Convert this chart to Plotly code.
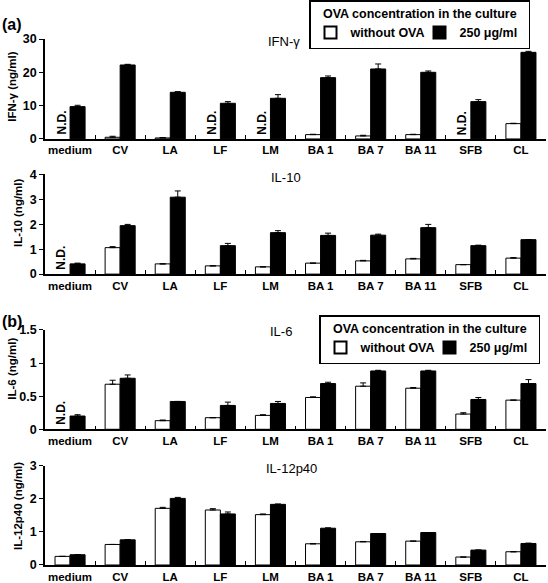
import plotly.graph_objects as go
from plotly.subplots import make_subplots

categories = ["medium", "CV", "LA", "LF", "LM", "BA 1", "BA 7", "BA 11", "SFB", "CL"]

# IFN-gamma (ng/ml)
ifn_without = [None, 0.5, 0.3, None, None, 1.3, 0.9, 1.3, None, 4.6]
ifn_without_err = [0, 0.3, 0.1, 0, 0, 0.1, 0.2, 0.1, 0, 0.1]
ifn_ova = [9.7, 22.2, 14.0, 10.7, 12.2, 18.4, 21.0, 20.0, 11.2, 26.0]
ifn_ova_err = [0.4, 0.2, 0.2, 0.5, 1.1, 0.5, 1.5, 0.4, 0.6, 0.3]

# IL-10 (ng/ml)
il10_without = [None, 1.06, 0.41, 0.33, 0.29, 0.44, 0.53, 0.61, 0.38, 0.64]
il10_without_err = [0, 0.04, 0.0, 0.0, 0.0, 0.0, 0.02, 0.02, 0.0, 0.02]
il10_ova = [0.41, 1.94, 3.08, 1.14, 1.66, 1.55, 1.56, 1.86, 1.14, 1.38]
il10_ova_err = [0.03, 0.05, 0.25, 0.09, 0.08, 0.09, 0.04, 0.13, 0.02, 0.0]

# IL-6 (ng/ml)
il6_without = [None, 0.68, 0.13, 0.175, 0.21, 0.48, 0.65, 0.62, 0.23, 0.44]
il6_without_err = [0, 0.06, 0.01, 0.0, 0.01, 0.01, 0.05, 0.01, 0.02, 0.0]
il6_ova = [0.20, 0.77, 0.42, 0.36, 0.39, 0.69, 0.88, 0.88, 0.45, 0.69]
il6_ova_err = [0.02, 0.05, 0.0, 0.05, 0.03, 0.02, 0.01, 0.01, 0.03, 0.06]

# IL-12p40 (ng/ml)
il12_without = [0.26, 0.62, 1.71, 1.66, 1.52, 0.64, 0.70, 0.72, 0.24, 0.40]
il12_without_err = [0.0, 0.0, 0.03, 0.04, 0.02, 0.0, 0.01, 0.0, 0.0, 0.0]
il12_ova = [0.31, 0.76, 2.01, 1.54, 1.83, 1.11, 0.95, 0.98, 0.45, 0.65]
il12_ova_err = [0.0, 0.0, 0.03, 0.06, 0.01, 0.01, 0.0, 0.0, 0.0, 0.01]

panel_titles = ["IFN-γ", "IL-10", "IL-6", "IL-12p40"]
axis_titles = ["IFN-γ (ng/ml)", "IL-10 (ng/ml)", "IL-6 (ng/ml)", "IL-12p40 (ng/ml)"]
y_max = [30, 4, 1.5, 3]
y_step = [10, 1, 0.5, 1]
series_names = ["without OVA", "250 μg/ml"]
legend_title = "OVA concentration in the culture"

panels = [
    (ifn_without, ifn_without_err, ifn_ova, ifn_ova_err),
    (il10_without, il10_without_err, il10_ova, il10_ova_err),
    (il6_without, il6_without_err, il6_ova, il6_ova_err),
    (il12_without, il12_without_err, il12_ova, il12_ova_err),
]

FONT = "Liberation Sans, Arial, sans-serif"

fig = make_subplots(rows=4, cols=1)

legend_of_row = {1: "legend", 2: None, 3: "legend2", 4: None}

for r, (w, we, o, oe) in enumerate(panels, start=1):
    lg = legend_of_row[r]
    fig.add_trace(go.Bar(
        x=categories, y=w, name=series_names[0],
        marker=dict(color="white", line=dict(color="black", width=1)),
        error_y=dict(type="data", symmetric=False, array=we, arrayminus=[0] * len(we),
                     color="black", thickness=1, width=3),
        showlegend=lg is not None, legend=lg if lg else "legend",
    ), row=r, col=1)
    fig.add_trace(go.Bar(
        x=categories, y=o, name=series_names[1],
        marker=dict(color="black", line=dict(color="black", width=1)),
        error_y=dict(type="data", symmetric=False, array=oe, arrayminus=[0] * len(oe),
                     color="black", thickness=1, width=3),
        showlegend=lg is not None, legend=lg if lg else "legend",
    ), row=r, col=1)

# plot-area domains (paper coordinates)
y_domains = [[0.810, 1.0], [0.553, 0.743], [0.258, 0.447], [0.0, 0.189]]

for r in range(1, 5):
    fig.update_xaxes(
        row=r, col=1, type="category", range=[-0.5, 9.5],
        showline=True, linecolor="black", linewidth=1.5,
        ticks="inside", tickson="boundaries", ticklen=4, tickcolor="black", tickwidth=1,
        tickangle=0, automargin=False,
        tickfont=dict(family=FONT, size=11.5, color="black", weight="bold"),
        showgrid=False, zeroline=False, fixedrange=True,
    )
    fig.update_yaxes(
        row=r, col=1, range=[0, y_max[r - 1]], dtick=y_step[r - 1], tick0=0,
        domain=y_domains[r - 1], automargin=False,
        showline=True, linecolor="black", linewidth=1.5,
        ticks="outside", ticklen=4, tickcolor="black", tickwidth=1,
        tickfont=dict(family=FONT, size=12.5, color="black", weight="bold"),
        showgrid=False, zeroline=False,
    )

annotations = []
# y-axis titles
title_pos = [(-0.066, 0.909), (-0.054, 0.671), (-0.066, 0.373), (-0.054, 0.112)]
for i, t in enumerate(axis_titles):
    annotations.append(dict(
        text=t, xref="paper", yref="paper", x=title_pos[i][0], y=title_pos[i][1],
        textangle=-90, showarrow=False, xanchor="center", yanchor="middle",
        font=dict(family=FONT, size=11.5, color="black", weight="bold"),
    ))
# panel titles
ptitle_pos = [(0.478, 0.996), (0.482, 0.736), (0.472, 0.443), (0.492, 0.183)]
for i, t in enumerate(panel_titles):
    annotations.append(dict(
        text=t, xref="paper", yref="paper", x=ptitle_pos[i][0], y=ptitle_pos[i][1],
        showarrow=False, xanchor="center", yanchor="middle",
        font=dict(family=FONT, size=13, color="black"),
    ))
# panel letters
annotations.append(dict(text="(a)", xref="paper", yref="paper", x=-0.09, y=1.027,
                        showarrow=False, xanchor="left", yanchor="middle",
                        font=dict(family=FONT, size=16, color="black", weight="bold")))
annotations.append(dict(text="(b)", xref="paper", yref="paper", x=-0.09, y=0.462,
                        showarrow=False, xanchor="left", yanchor="middle",
                        font=dict(family=FONT, size=16, color="black", weight="bold")))

# N.D. markers for missing "without OVA" values
for r, (w, we, o, oe) in enumerate(panels, start=1):
    for i, v in enumerate(w):
        if v is None:
            annotations.append(dict(
                text="N.D.", xref=f"x{r if r > 1 else ''}", yref=f"y{r if r > 1 else ''}",
                x=i - 0.17, y=0, yshift=2, textangle=-90, showarrow=False,
                xanchor="center", yanchor="bottom",
                font=dict(family=FONT, size=12, color="black", weight="bold"),
            ))

legend_style = dict(
    orientation="h", xanchor="left", yanchor="top",
    bordercolor="black", borderwidth=1.5, bgcolor="white",
    font=dict(family=FONT, size=12.5, color="black", weight="bold"),
    title=dict(text="&nbsp;&nbsp;&nbsp;" + legend_title, side="top",
               font=dict(family=FONT, size=12.5, color="black", weight="bold")),
    entrywidth=64, entrywidthmode="pixels", itemsizing="constant",
)

fig.update_layout(
    width=548, height=583,
    margin=dict(l=45, r=2, t=39, b=18, autoexpand=False),
    paper_bgcolor="white", plot_bgcolor="white",
    barmode="group", bargap=0.4, bargroupgap=0.0,
    font=dict(family=FONT, color="black"),
    annotations=annotations,
    legend=dict(x=(309 - 45) / 501, y=1.074, **legend_style),
    legend2=dict(x=(319 - 45) / 501, y=0.475, **legend_style),
)

fig.write_html("out.html",
               config={"displayModeBar": False},
               post_script="document.body.style.margin='0';document.body.style.overflow='hidden';")
